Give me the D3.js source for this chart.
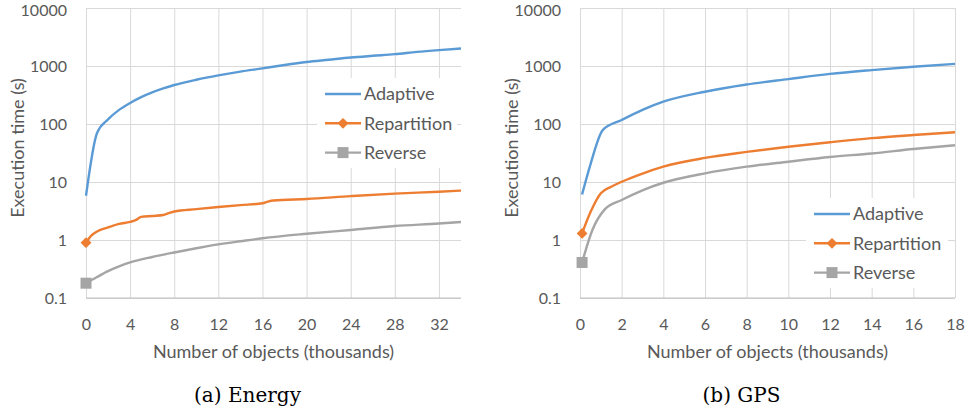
<html lang="en">
<head>
  <meta charset="UTF-8"/>
  <title>Execution time</title>
  <script src="https://d3js.org/d3.v7.min.js"></script>
</head>
<style>
body {
  margin: 0;
  background: #fff;
}

svg {
  width: 970px;
  height: 416px;
  display: block;
}

text {
  font-family: 'Lato', sans-serif;
  fill: #595959;
}

.grid line {
  stroke: #d9d9d9;
  stroke-width: 1;
}

.domain {
  display: none;
}
</style>
<body>
<svg></svg>
<script>
    const seriesNames = ['Adaptive', 'Repartition', 'Reverse'];
    const seriesColors = ['#5b9bd5', '#ed7d31', '#a5a5a5'];
    const seriesMarkers = [null, 'diamond', 'square'];

    const yTicks = [0.1, 1, 10, 100, 1000, 10000];

    // (a) Energy
    const energyTicks = [0, 4, 8, 12, 16, 20, 24, 28, 32];
    const energyAdaptiveX = [0, 1, 2, 3, 4, 5, 6, 7, 8, 10, 12, 14, 16, 18, 20, 22, 24, 26, 28, 30, 32, 34];
    const energyAdaptive = [5.8, 70, 120, 175, 230, 290, 350, 410, 470, 580, 690, 800, 910, 1040, 1170, 1280, 1400, 1500, 1600, 1750, 1880, 2000];
    const energyRepartitionX = [0, 0.5, 1, 2, 3, 4, 4.5, 5, 6, 7, 7.5, 8, 10, 12, 14, 16, 16.5, 17, 20, 24, 28, 32, 34];
    const energyRepartition = [0.9, 1.2, 1.4, 1.65, 1.9, 2.05, 2.2, 2.5, 2.6, 2.7, 2.9, 3.1, 3.4, 3.7, 4.0, 4.3, 4.6, 4.8, 5.1, 5.7, 6.3, 6.8, 7.1];
    const energyReverseX = [0, 1, 2, 3, 4, 6, 8, 10, 12, 14, 16, 20, 24, 28, 32, 34];
    const energyReverse = [0.18, 0.23, 0.29, 0.35, 0.41, 0.51, 0.61, 0.72, 0.84, 0.95, 1.07, 1.28, 1.49, 1.74, 1.92, 2.04];

    // (b) GPS
    const gpsTicks = [0, 2, 4, 6, 8, 10, 12, 14, 16, 18];
    const gpsAdaptiveX = [0.1, 0.5, 1.1, 2, 3, 4, 6, 8, 10, 12, 14, 16, 18];
    const gpsAdaptive = [6.1, 20, 79, 117, 175, 242, 360, 480, 595, 730, 850, 970, 1090];
    const gpsRepartitionX = [0.1, 0.5, 1, 1.5, 2, 3, 4, 6, 8, 10, 12, 14, 16, 18];
    const gpsRepartition = [1.3, 3, 6.4, 8.3, 10.1, 14, 18.4, 26, 33, 40.6, 48.5, 57, 64.5, 72];
    const gpsReverseX = [0.1, 0.6, 1.2, 2, 3, 4, 6, 8, 10, 12, 14, 16, 18];
    const gpsReverse = [0.41, 1.5, 3.4, 4.9, 7.2, 9.7, 14.1, 18.4, 22.4, 27, 31, 37, 43];

    const panels = [
      {
        left: 86, right: 461, xMax: 34, ticks: energyTicks, caption: '(a) Energy',
        series: [
          { x: energyAdaptiveX, y: energyAdaptive },
          { x: energyRepartitionX, y: energyRepartition },
          { x: energyReverseX, y: energyReverse }
        ],
        legend: { x: 317, y: 78, w: 140, h: 90 }
      },
      {
        left: 580, right: 955, xMax: 18, ticks: gpsTicks, caption: '(b) GPS',
        series: [
          { x: gpsAdaptiveX, y: gpsAdaptive },
          { x: gpsRepartitionX, y: gpsRepartition },
          { x: gpsReverseX, y: gpsReverse }
        ],
        legend: { x: 806, y: 198, w: 142, h: 90 }
      }
    ];

    const svg = d3.select('svg');
    const plotTop = 8;
    const plotBottom = 298;

    panels.forEach((p) => {
      const g = svg.append('g');

      const xScale = d3.scaleLinear()
        .domain([0, p.xMax])
        .range([p.left, p.right]);

      const yScale = d3.scaleLog()
        .domain([0.1, 10000])
        .range([plotBottom, plotTop]);

      // horizontal grid lines
      g.append('g')
        .attr('class', 'grid')
        .attr('transform', `translate(${p.left}, 0)`)
        .call(d3.axisLeft(yScale)
          .tickValues(yTicks)
          .tickSize(-(p.right - p.left))
          .tickFormat(''));

      // vertical grid lines
      g.append('g')
        .attr('class', 'grid')
        .attr('transform', `translate(0, ${plotBottom})`)
        .call(d3.axisBottom(xScale)
          .tickValues(p.ticks)
          .tickSize(-(plotBottom - plotTop))
          .tickFormat(''));

      // bottom axis line
      g.append('line')
        .attr('x1', p.left)
        .attr('x2', p.right)
        .attr('y1', plotBottom)
        .attr('y2', plotBottom)
        .attr('stroke', '#bfbfbf')
        .attr('stroke-width', 1.2);

      // tick labels
      g.append('g')
        .attr('class', 'labels')
        .attr('transform', `translate(${p.left - 19}, 0)`)
        .call(d3.axisLeft(yScale)
          .tickValues(yTicks)
          .tickSize(0)
          .tickPadding(0)
          .tickFormat((d) => d3.format('')(d)))
        .selectAll('text')
        .attr('dy', (d) => d === 10000 ? '0.45em' : '0.35em')
        .style('font-size', '16px')
        .style('font-family', 'Lato, sans-serif')
        .style('fill', '#595959');

      g.append('g')
        .attr('class', 'labels')
        .attr('transform', `translate(0, ${plotBottom + 26})`)
        .call(d3.axisBottom(xScale)
          .tickValues(p.ticks)
          .tickSize(0)
          .tickPadding(0))
        .selectAll('text')
        .attr('dy', '0.35em')
        .style('font-size', '16px')
        .style('font-family', 'Lato, sans-serif')
        .style('fill', '#595959');

      g.selectAll('.labels .tick line').remove();

      // legend box
      const lg = g.append('g');
      lg.append('rect')
        .attr('x', p.legend.x)
        .attr('y', p.legend.y)
        .attr('width', p.legend.w)
        .attr('height', p.legend.h)
        .attr('fill', '#fff');

      const line = d3.line()
        .curve(d3.curveMonotoneX)
        .x((d) => xScale(d[0]))
        .y((d) => yScale(d[1]));

      p.series.forEach((s, i) => {
        const pts = s.x.map((x, j) => [x, s.y[j]]);
        g.append('path')
          .datum(pts)
          .attr('d', line)
          .attr('fill', 'none')
          .attr('stroke', seriesColors[i])
          .attr('stroke-width', 2.4)
          .attr('stroke-linejoin', 'round');

        drawMarker(g, seriesMarkers[i], xScale(pts[0][0]), yScale(pts[0][1]), seriesColors[i]);

        const ly = p.legend.y + 16 + i * 29.3;
        const lx = p.legend.x + 8;
        lg.append('line')
          .attr('x1', lx)
          .attr('x2', lx + 36)
          .attr('y1', ly)
          .attr('y2', ly)
          .attr('stroke', seriesColors[i])
          .attr('stroke-width', 2.4);
        drawMarker(lg, seriesMarkers[i], lx + 18, ly, seriesColors[i]);
        lg.append('text')
          .attr('x', lx + 39)
          .attr('y', ly)
          .attr('dy', '0.35em')
          .style('font-size', '18px')
          .text(seriesNames[i]);
      });

      // axis titles
      g.append('text')
        .attr('x', (p.left + p.right) / 2)
        .attr('y', 352)
        .attr('dy', '0.35em')
        .attr('text-anchor', 'middle')
        .style('font-size', '18px')
        .text('Number of objects (thousands)');

      g.append('text')
        .attr('transform', `translate(${p.left - 68}, 148) rotate(-90)`)
        .attr('dy', '0.35em')
        .attr('text-anchor', 'middle')
        .style('font-size', '18px')
        .text('Execution time (s)');

      g.append('text')
        .attr('x', (p.left + p.right) / 2 - 26)
        .attr('y', 395)
        .attr('dy', '0.35em')
        .attr('text-anchor', 'middle')
        .style('font-family', "'DejaVu Serif', serif")
        .style('font-size', '20px')
        .style('fill', '#000')
        .text(p.caption);
    });

    function drawMarker(sel, type, x, y, color) {
      if (type === 'diamond') {
        sel.append('path')
          .attr('d', d3.symbol().type(d3.symbolDiamond2).size(75)())
          .attr('transform', `translate(${x}, ${y})`)
          .attr('fill', color);
      } else if (type === 'square') {
        sel.append('rect')
          .attr('x', x - 5.5)
          .attr('y', y - 5.5)
          .attr('width', 11)
          .attr('height', 11)
          .attr('fill', color);
      }
    }
</script>
</body>
</html>
